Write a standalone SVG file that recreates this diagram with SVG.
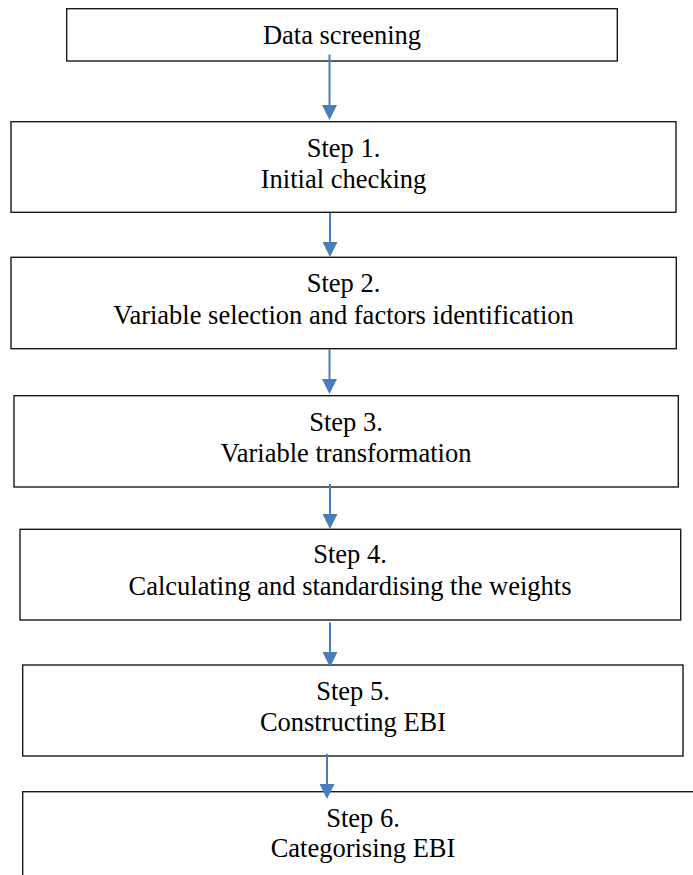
<svg xmlns="http://www.w3.org/2000/svg" width="693" height="875" viewBox="0 0 693 875">
  <defs>
    <style>
      .box { fill: #ffffff; stroke: #1a1a1a; stroke-width: 1.4; }
      .lbl { font-family: "Liberation Serif", "Times New Roman", serif; font-size: 26.5px; fill: #000000; text-anchor: middle; }
      .flow { stroke: #4a7ebb; stroke-width: 2; fill: none; marker-end: url(#head); }
    </style>
    <marker id="head" viewBox="0 0 15 15" markerUnits="userSpaceOnUse" markerWidth="15" markerHeight="15" refX="5" refY="7.5" orient="auto">
      <path d="M0,0 L15,7.5 L0,15 Z" fill="#4a7ebb"/>
    </marker>
  </defs>
  <rect width="693" height="875" fill="#ffffff"/>

  <g id="node-screening">
    <rect class="box" x="66.7" y="8.7" width="550.6" height="52.3"/>
    <text class="lbl" x="342" y="44.3">Data screening</text>
  </g>

  <g id="node-step1">
    <rect class="box" x="11" y="121.7" width="665" height="90.6"/>
    <text class="lbl" x="343.5" y="156.7">Step 1.</text>
    <text class="lbl" x="343.5" y="188.3">Initial checking</text>
  </g>

  <g id="node-step2">
    <rect class="box" x="11" y="257.3" width="665.3" height="91.4"/>
    <text class="lbl" x="343.5" y="292.3">Step 2.</text>
    <text class="lbl" x="343.5" y="324">Variable selection and factors identification</text>
  </g>

  <g id="node-step3">
    <rect class="box" x="14" y="395.7" width="664.3" height="91.3"/>
    <text class="lbl" x="346" y="431">Step 3.</text>
    <text class="lbl" x="346" y="462.3">Variable transformation</text>
  </g>

  <g id="node-step4">
    <rect class="box" x="20" y="529.3" width="660.7" height="90.7"/>
    <text class="lbl" x="350" y="563.3">Step 4.</text>
    <text class="lbl" x="350" y="595">Calculating and standardising the weights</text>
  </g>

  <g id="node-step5">
    <rect class="box" x="22.7" y="665" width="660.3" height="91"/>
    <text class="lbl" x="353" y="700">Step 5.</text>
    <text class="lbl" x="353" y="730.5">Constructing EBI</text>
  </g>

  <g id="node-step6">
    <rect class="box" x="22.7" y="791.7" width="700" height="120"/>
    <text class="lbl" x="363" y="826.7">Step 6.</text>
    <text class="lbl" x="363" y="856.5">Categorising EBI</text>
  </g>

  <g id="connectors">
    <line class="flow" x1="329.5" y1="54.5" x2="329.5" y2="110"/>
    <line class="flow" x1="330" y1="213" x2="330" y2="247"/>
    <line class="flow" x1="329.5" y1="349" x2="329.5" y2="384"/>
    <line class="flow" x1="330" y1="484" x2="330" y2="519"/>
    <line class="flow" x1="330" y1="622.5" x2="330" y2="657"/>
    <line class="flow" x1="327" y1="754" x2="327" y2="789"/>
  </g>
</svg>
